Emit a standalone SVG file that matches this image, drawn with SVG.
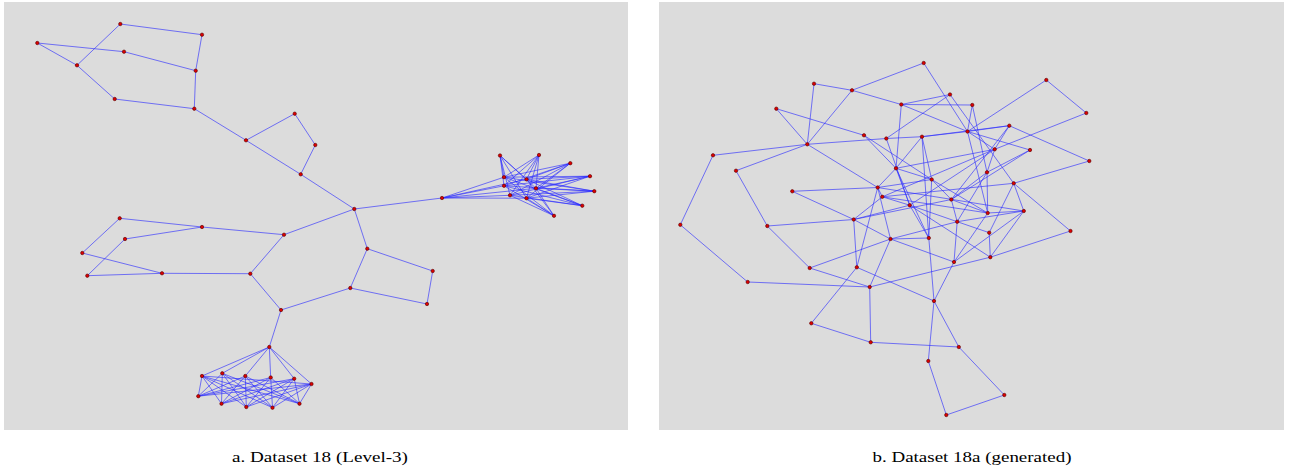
<svg xmlns="http://www.w3.org/2000/svg" width="1294" height="470" viewBox="0 0 1294 470">
<style>
.panel{fill:#dcdcdc}
.e path{stroke:#2a2aff;stroke-opacity:0.62;stroke-width:1;fill:none}
.n circle{fill:#dd0000;stroke:#550000;stroke-width:0.6}
.cap{font-family:"Liberation Serif","Times New Roman",serif;font-size:15px;fill:#000;text-anchor:middle}
</style>
<rect x="0" y="0" width="1294" height="470" fill="#ffffff"/>
<rect class="panel" x="4" y="2" width="624" height="428"/>
<rect class="panel" x="659" y="2" width="625" height="428"/>
<g id="connectors" class="e">
<g id="edges-a">
<path d="M120.3 24L202 34.7"/><path d="M120.3 24L77 65.3"/><path d="M37.3 43L124 51.7"/><path d="M37.3 43L77 65.3"/>
<path d="M124 51.7L195.7 70.7"/><path d="M202 34.7L195.7 70.7"/><path d="M195.7 70.7L194.3 108.7"/><path d="M77 65.3L114.7 99"/>
<path d="M114.7 99L194.3 108.7"/><path d="M194.3 108.7L246 140.3"/><path d="M246 140.3L294.7 113.7"/><path d="M294.7 113.7L315.3 145"/>
<path d="M315.3 145L300.7 174.3"/><path d="M246 140.3L300.7 174.3"/><path d="M300.7 174.3L354.3 209"/><path d="M354.3 209L442 198"/>
<path d="M354.3 209L284 234.7"/><path d="M354.3 209L367.3 248.7"/><path d="M284 234.7L250.3 273.7"/><path d="M284 234.7L202 227"/>
<path d="M367.3 248.7L432.7 271"/><path d="M367.3 248.7L350.3 288"/><path d="M432.7 271L427 304"/><path d="M350.3 288L427 304"/>
<path d="M350.3 288L281 310"/><path d="M250.3 273.7L281 310"/><path d="M250.3 273.7L162 273.3"/><path d="M281 310L269.3 347"/>
<path d="M119.7 218.3L202 227"/><path d="M119.7 218.3L82.3 253"/><path d="M82.3 253L162 273.3"/><path d="M125 239L202 227"/>
<path d="M125 239L87.3 275.7"/><path d="M87.3 275.7L162 273.3"/>
<path d="M269.3 347L202 376"/><path d="M269.3 347L222.3 373.3"/><path d="M269.3 347L245.3 376"/><path d="M269.3 347L270.7 377.5"/><path d="M269.3 347L294.2 378.7"/><path d="M269.3 347L311.5 384"/>
<path d="M202 376L198.3 396.2"/><path d="M202 376L221.5 403.7"/><path d="M202 376L246.3 407"/><path d="M202 376L272.5 407.7"/><path d="M202 376L299.5 403.7"/>
<path d="M222.3 373.3L198.3 396.2"/><path d="M222.3 373.3L221.5 403.7"/><path d="M222.3 373.3L246.3 407"/><path d="M222.3 373.3L272.5 407.7"/><path d="M222.3 373.3L299.5 403.7"/>
<path d="M245.3 376L198.3 396.2"/><path d="M245.3 376L221.5 403.7"/><path d="M245.3 376L246.3 407"/><path d="M245.3 376L272.5 407.7"/><path d="M245.3 376L299.5 403.7"/>
<path d="M270.7 377.5L198.3 396.2"/><path d="M270.7 377.5L221.5 403.7"/><path d="M270.7 377.5L246.3 407"/><path d="M270.7 377.5L272.5 407.7"/><path d="M270.7 377.5L299.5 403.7"/>
<path d="M294.2 378.7L198.3 396.2"/><path d="M294.2 378.7L221.5 403.7"/><path d="M294.2 378.7L246.3 407"/><path d="M294.2 378.7L272.5 407.7"/><path d="M294.2 378.7L299.5 403.7"/>
<path d="M311.5 384L198.3 396.2"/><path d="M311.5 384L221.5 403.7"/><path d="M311.5 384L246.3 407"/><path d="M311.5 384L272.5 407.7"/><path d="M311.5 384L299.5 403.7"/>
<path d="M202 376L311.5 384"/>
<path d="M442 198L504 177.2"/><path d="M442 198L526.5 179.3"/><path d="M442 198L504 185.8"/><path d="M442 198L536 188.3"/><path d="M442 198L510 195.3"/><path d="M442 198L526.5 198.2"/>
<path d="M504 177.2L500 155.5"/><path d="M504 177.2L539 155"/><path d="M504 177.2L570.3 163.2"/><path d="M504 177.2L590 176.2"/><path d="M504 177.2L594.3 191.2"/><path d="M504 177.2L582.3 205.7"/><path d="M504 177.2L554 215.8"/>
<path d="M526.5 179.3L500 155.5"/><path d="M526.5 179.3L539 155"/><path d="M526.5 179.3L570.3 163.2"/><path d="M526.5 179.3L590 176.2"/><path d="M526.5 179.3L594.3 191.2"/><path d="M526.5 179.3L582.3 205.7"/><path d="M526.5 179.3L554 215.8"/>
<path d="M504 185.8L500 155.5"/><path d="M504 185.8L539 155"/><path d="M504 185.8L570.3 163.2"/><path d="M504 185.8L590 176.2"/><path d="M504 185.8L594.3 191.2"/><path d="M504 185.8L582.3 205.7"/><path d="M504 185.8L554 215.8"/>
<path d="M536 188.3L500 155.5"/><path d="M536 188.3L539 155"/><path d="M536 188.3L570.3 163.2"/><path d="M536 188.3L590 176.2"/><path d="M536 188.3L594.3 191.2"/><path d="M536 188.3L582.3 205.7"/><path d="M536 188.3L554 215.8"/>
<path d="M510 195.3L500 155.5"/><path d="M510 195.3L539 155"/><path d="M510 195.3L570.3 163.2"/><path d="M510 195.3L590 176.2"/><path d="M510 195.3L594.3 191.2"/><path d="M510 195.3L582.3 205.7"/><path d="M510 195.3L554 215.8"/>
<path d="M526.5 198.2L500 155.5"/><path d="M526.5 198.2L539 155"/><path d="M526.5 198.2L570.3 163.2"/><path d="M526.5 198.2L590 176.2"/><path d="M526.5 198.2L594.3 191.2"/><path d="M526.5 198.2L582.3 205.7"/><path d="M526.5 198.2L554 215.8"/>
</g>
<g id="edges-b">
<path d="M923.7 63L852 90.3"/><path d="M923.7 63L967.5 131.5"/><path d="M814 83.7L852 90.3"/><path d="M814 83.7L807.3 144.3"/>
<path d="M852 90.3L807.3 144.3"/><path d="M852 90.3L901.3 104.5"/><path d="M901.3 104.5L950 94.5"/><path d="M901.3 104.5L972.3 105"/>
<path d="M901.3 104.5L967.5 131.5"/><path d="M901.3 104.5L896 168.3"/><path d="M950 94.5L886.3 138.5"/><path d="M950 94.5L1013.7 183.3"/>
<path d="M776.3 108.7L864 135.3"/><path d="M776.3 108.7L807.3 144.3"/><path d="M807.3 144.3L713 155.3"/><path d="M713 155.3L680.3 224.8"/>
<path d="M680.3 224.8L747.7 282"/><path d="M747.7 282L869.7 287"/><path d="M807.3 144.3L736 170.7"/><path d="M736 170.7L767.3 226"/>
<path d="M767.3 226L809.7 268"/><path d="M767.3 226L853.7 219.5"/><path d="M807.3 144.3L877.7 187.5"/><path d="M792.3 191.3L877.7 187.5"/>
<path d="M792.3 191.3L853.7 219.5"/><path d="M807.3 144.3L886.3 138.5"/><path d="M886.3 138.5L922 136.7"/><path d="M922 136.7L967.5 131.5"/>
<path d="M864 135.3L896 168.3"/><path d="M809.7 268L869.7 287"/><path d="M809.7 268L890.5 239"/><path d="M869.7 287L890.5 239"/>
<path d="M869.7 287L870.7 342.3"/><path d="M869.7 287L990.3 257.2"/><path d="M870.7 342.3L811.3 323.3"/><path d="M811.3 323.3L856.8 267.3"/>
<path d="M856.8 267.3L853.7 219.5"/><path d="M856.8 267.3L877.7 187.5"/><path d="M856.8 267.3L934 301"/><path d="M934 301L928.8 238"/>
<path d="M934 301L954 262"/><path d="M934 301L958.8 347"/><path d="M934 301L928.3 361"/><path d="M870.7 342.3L958.8 347"/>
<path d="M958.8 347L1004.3 395"/><path d="M1004.3 395L946.3 415"/><path d="M946.3 415L928.3 361"/><path d="M853.7 219.5L890.5 239"/>
<path d="M890.5 239L928.8 238"/><path d="M890.5 239L957.2 221.7"/><path d="M890.5 239L954 262"/><path d="M928.8 238L909.7 205.2"/>
<path d="M954 262L957.2 221.7"/><path d="M1070.5 231L990.3 257.2"/><path d="M1070.5 231L1013.7 183.3"/><path d="M1089.3 161L1013.7 183.3"/>
<path d="M1089.3 161L1009.3 125.7"/><path d="M1046.3 80L1086.3 113"/><path d="M1046.3 80L967.5 131.5"/><path d="M1086.3 113L994.7 149.3"/>
<path d="M967.5 131.5L1009.3 125.7"/><path d="M967.5 131.5L994.7 149.3"/><path d="M967.5 131.5L1030 150"/><path d="M972.3 105L987 172.3"/>
<path d="M1009.3 125.7L994.7 149.3"/><path d="M1009.3 125.7L951.3 199.5"/><path d="M994.7 149.3L987 172.3"/><path d="M994.7 149.3L882.3 196.8"/>
<path d="M1030 150L987 172.3"/><path d="M1030 150L951.3 199.5"/><path d="M987 172.3L987.7 213"/><path d="M987 172.3L957.2 221.7"/>
<path d="M1013.7 183.3L1023.8 211"/><path d="M1013.7 183.3L989.2 232.7"/><path d="M987.7 213L1023.8 211"/><path d="M987.7 213L951.3 199.5"/>
<path d="M987.7 213L954 262"/><path d="M1023.8 211L957.2 221.7"/><path d="M1023.8 211L990.3 257.2"/><path d="M1023.8 211L954 262"/>
<path d="M989.2 232.7L990.3 257.2"/><path d="M989.2 232.7L957.2 221.7"/><path d="M990.3 257.2L909.7 205.2"/><path d="M951.3 199.5L957.2 221.7"/>
<path d="M951.3 199.5L931.7 179.5"/><path d="M896 168.3L931.7 179.5"/><path d="M896 168.3L877.7 187.5"/><path d="M896 168.3L909.7 205.2"/>
<path d="M896 168.3L928.8 238"/><path d="M896 168.3L922 136.7"/><path d="M931.7 179.5L922 136.7"/><path d="M931.7 179.5L877.7 187.5"/>
<path d="M931.7 179.5L928.8 238"/><path d="M931.7 179.5L987.7 213"/><path d="M877.7 187.5L882.3 196.8"/><path d="M877.7 187.5L890.5 239"/>
<path d="M882.3 196.8L909.7 205.2"/><path d="M882.3 196.8L987.7 213"/><path d="M882.3 196.8L853.7 219.5"/><path d="M909.7 205.2L994.7 149.3"/>
<path d="M886.3 138.5L909.7 205.2"/><path d="M922 136.7L1009.3 125.7"/><path d="M972.3 105L967.5 131.5"/><path d="M853.7 219.5L909.7 205.2"/>
<path d="M864 135.3L931.7 179.5"/>
<path d="M967.5 131.5L987.7 213"/><path d="M922 136.7L928.8 238"/><path d="M877.7 187.5L1023.8 211"/><path d="M853.7 219.5L951.3 199.5"/>
<path d="M909.7 205.2L957.2 221.7"/><path d="M896 168.3L994.7 149.3"/><path d="M987 172.3L951.3 199.5"/><path d="M882.3 196.8L1013.7 183.3"/>
</g>
</g>
<g id="nodes-a" class="n">
<g id="a1"><circle cx="120.3" cy="24" r="1.7"/></g><g id="a2"><circle cx="202" cy="34.7" r="1.7"/></g><g id="a3"><circle cx="37.3" cy="43" r="1.7"/></g>
<g id="a4"><circle cx="124" cy="51.7" r="1.7"/></g><g id="a5"><circle cx="77" cy="65.3" r="1.7"/></g><g id="a6"><circle cx="195.7" cy="70.7" r="1.7"/></g>
<g id="a7"><circle cx="114.7" cy="99" r="1.7"/></g><g id="a8"><circle cx="194.3" cy="108.7" r="1.7"/></g><g id="a9"><circle cx="246" cy="140.3" r="1.7"/></g>
<g id="a10"><circle cx="294.7" cy="113.7" r="1.7"/></g><g id="a11"><circle cx="315.3" cy="145" r="1.7"/></g><g id="a12"><circle cx="300.7" cy="174.3" r="1.7"/></g>
<g id="ac"><circle cx="354.3" cy="209" r="1.7"/></g><g id="ah"><circle cx="442" cy="198" r="1.7"/></g>
<g id="b1"><circle cx="284" cy="234.7" r="1.7"/></g><g id="b2"><circle cx="367.3" cy="248.7" r="1.7"/></g><g id="b3"><circle cx="432.7" cy="271" r="1.7"/></g>
<g id="b4"><circle cx="250.3" cy="273.7" r="1.7"/></g><g id="b5"><circle cx="350.3" cy="288" r="1.7"/></g><g id="b6"><circle cx="427" cy="304" r="1.7"/></g>
<g id="b7"><circle cx="281" cy="310" r="1.7"/></g>
<g id="d1"><circle cx="119.7" cy="218.3" r="1.7"/></g><g id="d2"><circle cx="202" cy="227" r="1.7"/></g><g id="d3"><circle cx="125" cy="239" r="1.7"/></g>
<g id="d4"><circle cx="82.3" cy="253" r="1.7"/></g><g id="d5"><circle cx="87.3" cy="275.7" r="1.7"/></g><g id="d6"><circle cx="162" cy="273.3" r="1.7"/></g>
<g id="e0"><circle cx="269.3" cy="347" r="1.7"/></g>
<g id="t1"><circle cx="202" cy="376" r="1.7"/></g><g id="t2"><circle cx="222.3" cy="373.3" r="1.7"/></g><g id="t3"><circle cx="245.3" cy="376" r="1.7"/></g>
<g id="t4"><circle cx="270.7" cy="377.5" r="1.7"/></g><g id="t5"><circle cx="294.2" cy="378.7" r="1.7"/></g><g id="t6"><circle cx="311.5" cy="384" r="1.7"/></g>
<g id="u1"><circle cx="198.3" cy="396.2" r="1.7"/></g><g id="u2"><circle cx="221.5" cy="403.7" r="1.7"/></g><g id="u3"><circle cx="246.3" cy="407" r="1.7"/></g>
<g id="u4"><circle cx="272.5" cy="407.7" r="1.7"/></g><g id="u5"><circle cx="299.5" cy="403.7" r="1.7"/></g>
<g id="s1"><circle cx="500" cy="155.5" r="1.7"/></g><g id="s2"><circle cx="539" cy="155" r="1.7"/></g><g id="s3"><circle cx="570.3" cy="163.2" r="1.7"/></g>
<g id="s4"><circle cx="590" cy="176.2" r="1.7"/></g><g id="s5"><circle cx="504" cy="177.2" r="1.7"/></g><g id="s6"><circle cx="526.5" cy="179.3" r="1.7"/></g>
<g id="s7"><circle cx="504" cy="185.8" r="1.7"/></g><g id="s8"><circle cx="536" cy="188.3" r="1.7"/></g><g id="s9"><circle cx="594.3" cy="191.2" r="1.7"/></g>
<g id="s10"><circle cx="510" cy="195.3" r="1.7"/></g><g id="s11"><circle cx="526.5" cy="198.2" r="1.7"/></g><g id="s12"><circle cx="582.3" cy="205.7" r="1.7"/></g>
<g id="s13"><circle cx="554" cy="215.8" r="1.7"/></g>
</g>
<g id="nodes-b" class="n">
<g id="r1"><circle cx="923.7" cy="63" r="1.7"/></g><g id="r2"><circle cx="814" cy="83.7" r="1.7"/></g><g id="r3"><circle cx="852" cy="90.3" r="1.7"/></g>
<g id="r4"><circle cx="950" cy="94.5" r="1.7"/></g><g id="r5"><circle cx="901.3" cy="104.5" r="1.7"/></g><g id="r6"><circle cx="776.3" cy="108.7" r="1.7"/></g>
<g id="r7"><circle cx="967.5" cy="131.5" r="1.7"/></g><g id="r8"><circle cx="864" cy="135.3" r="1.7"/></g><g id="r9"><circle cx="886.3" cy="138.5" r="1.7"/></g>
<g id="r10"><circle cx="922" cy="136.7" r="1.7"/></g><g id="r11"><circle cx="807.3" cy="144.3" r="1.7"/></g><g id="r12"><circle cx="713" cy="155.3" r="1.7"/></g>
<g id="r13"><circle cx="896" cy="168.3" r="1.7"/></g><g id="r14"><circle cx="736" cy="170.7" r="1.7"/></g><g id="r15"><circle cx="931.7" cy="179.5" r="1.7"/></g>
<g id="r16"><circle cx="877.7" cy="187.5" r="1.7"/></g><g id="r17"><circle cx="792.3" cy="191.3" r="1.7"/></g><g id="r18"><circle cx="882.3" cy="196.8" r="1.7"/></g>
<g id="r19"><circle cx="951.3" cy="199.5" r="1.7"/></g><g id="r20"><circle cx="909.7" cy="205.2" r="1.7"/></g><g id="r21"><circle cx="853.7" cy="219.5" r="1.7"/></g>
<g id="r22"><circle cx="957.2" cy="221.7" r="1.7"/></g><g id="r23"><circle cx="680.3" cy="224.8" r="1.7"/></g><g id="r24"><circle cx="767.3" cy="226" r="1.7"/></g>
<g id="r25"><circle cx="890.5" cy="239" r="1.7"/></g><g id="r26"><circle cx="928.8" cy="238" r="1.7"/></g><g id="r27"><circle cx="972.3" cy="105" r="1.7"/></g>
<g id="r28"><circle cx="1046.3" cy="80" r="1.7"/></g><g id="r29"><circle cx="1086.3" cy="113" r="1.7"/></g><g id="r30"><circle cx="1009.3" cy="125.7" r="1.7"/></g>
<g id="r31"><circle cx="994.7" cy="149.3" r="1.7"/></g><g id="r32"><circle cx="1030" cy="150" r="1.7"/></g><g id="r33"><circle cx="1089.3" cy="161" r="1.7"/></g>
<g id="r34"><circle cx="987" cy="172.3" r="1.7"/></g><g id="r35"><circle cx="1013.7" cy="183.3" r="1.7"/></g><g id="r36"><circle cx="987.7" cy="213" r="1.7"/></g>
<g id="r37"><circle cx="1023.8" cy="211" r="1.7"/></g><g id="r38"><circle cx="989.2" cy="232.7" r="1.7"/></g><g id="r39"><circle cx="1070.5" cy="231" r="1.7"/></g>
<g id="r40"><circle cx="954" cy="262" r="1.7"/></g><g id="r41"><circle cx="990.3" cy="257.2" r="1.7"/></g><g id="r42"><circle cx="958.8" cy="347" r="1.7"/></g>
<g id="r43"><circle cx="1004.3" cy="395" r="1.7"/></g><g id="r44"><circle cx="809.7" cy="268" r="1.7"/></g><g id="r45"><circle cx="856.8" cy="267.3" r="1.7"/></g>
<g id="r46"><circle cx="747.7" cy="282" r="1.7"/></g><g id="r47"><circle cx="869.7" cy="287" r="1.7"/></g><g id="r48"><circle cx="934" cy="301" r="1.7"/></g>
<g id="r49"><circle cx="811.3" cy="323.3" r="1.7"/></g><g id="r50"><circle cx="870.7" cy="342.3" r="1.7"/></g><g id="r51"><circle cx="928.3" cy="361" r="1.7"/></g>
<g id="r52"><circle cx="946.3" cy="415" r="1.7"/></g>
</g>
<text class="cap" x="320" y="462" textLength="176" lengthAdjust="spacingAndGlyphs">a. Dataset 18 (Level-3)</text>
<text class="cap" x="972" y="462" textLength="199" lengthAdjust="spacingAndGlyphs">b. Dataset 18a (generated)</text>
</svg>
